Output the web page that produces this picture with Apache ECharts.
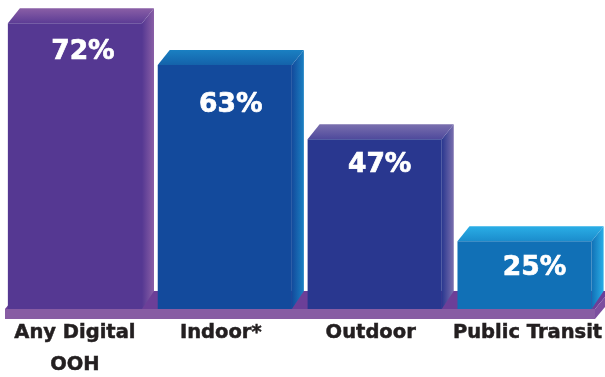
<!DOCTYPE html>
<html>
<head>
<meta charset="utf-8">
<style>html,body{margin:0;padding:0;background:#fff}#chart{width:605px;height:377px}</style>
<script src="https://cdn.jsdelivr.net/npm/echarts@6/dist/echarts.min.js"></script>
</head>
<body>
<div id="chart"></div>
<script>
// Reach of digital out-of-home formats
const categories = ['Any Digital\nOOH', 'Indoor*', 'Outdoor', 'Public Transit'];
const values = [72, 63, 47, 25];

// Face colours per bar: front, top (back edge, front edge), side (outer edge)
const fronts = ['#553892', '#134a9c', '#29378f', '#1170b6'];
const topBacks = ['#8a5fa6', '#1a80c2', '#7a6fae', '#2aaee6'];
const topFronts = ['#5c3c95', '#1462aa', '#4f4a9c', '#1b8ccc'];
const sideOuters = ['#8a5fa6', '#1a80c2', '#7a6fae', '#2aaee6'];

// Nudges of the value labels inside each bar
const labelDx = [8, 6, 5, 10];
const labelDy = [29, 40, 26, 27];
// Nudges of the category labels under each bar (right padding, left padding)
const catPad = [[0, 0], [8, 0], [8, 0], [0, 6]];

const DX = 12, DY = 15;       // bar extrusion
const FLOOR_DX = 15, FLOOR_DY = 18, FLOOR_H = 10;

function grad(x0, y0, x1, y1, a, b) {
  return new echarts.graphic.LinearGradient(x0, y0, x1, y1, [
    { offset: 0, color: a }, { offset: 1, color: b }
  ]);
}

function renderBar(params, api) {
  const i = api.value(0);
  const base = api.coord([i, api.value(2)]);
  const top = api.coord([i, api.value(1)]);
  const w = api.size([1, 0])[0] * 0.895;
  const l = base[0] - w / 2, r = base[0] + w / 2, t = top[1], b = base[1];
  return {
    type: 'group',
    children: [
      { type: 'polygon', shape: { points: [[r, t], [r + DX, t - DY], [r + DX, b - FLOOR_DY], [r, b]] },
        style: { fill: grad(0, 0, 1, 0, fronts[i], sideOuters[i]) } },
      { type: 'polygon', shape: { points: [[l, t], [l + DX, t - DY], [r + DX, t - DY], [r, t]] },
        style: { fill: grad(0, 0, 0, 1, topBacks[i], topFronts[i]) } },
      { type: 'rect', shape: { x: l, y: t, width: w, height: b - t }, style: { fill: fronts[i] } },
      { type: 'text', x: base[0] + labelDx[i], y: t + labelDy[i],
        style: { text: api.value(1) + '%', fill: '#ffffff', stroke: '#ffffff', lineWidth: 0.7,
          align: 'center', verticalAlign: 'middle', font: 'bold 26.5px "DejaVu Sans"' } }
    ]
  };
}

function renderFloor(params, api) {
  const b = api.coord([0, api.value(1)])[1];
  const l = 5, r = 595;
  return {
    type: 'group',
    children: [
      { type: 'polygon', shape: { points: [[l, b], [l + FLOOR_DX, b - FLOOR_DY], [r + FLOOR_DX, b - FLOOR_DY], [r, b]] },
        style: { fill: '#6c3f98' } },
      { type: 'polygon', shape: { points: [[r, b], [r + FLOOR_DX, b - FLOOR_DY], [r + FLOOR_DX, b - FLOOR_DY + FLOOR_H], [r, b + FLOOR_H]] },
        style: { fill: '#7c4f9f' } },
      { type: 'rect', shape: { x: l, y: b, width: r - l, height: FLOOR_H }, style: { fill: '#875ca3' } }
    ]
  };
}

const axisMin = 10.4, axisMax = 77;
const rich = {};
catPad.forEach((p, i) => {
  rich['c' + i] = { fontFamily: 'DejaVu Sans', fontWeight: 'bold', fontSize: 19.5, color: '#231f20',
    textBorderColor: '#231f20', textBorderWidth: 0.5, lineHeight: 32, padding: [0, p[0], 0, p[1]] };
});

const chart = echarts.init(document.getElementById('chart'), null, { renderer: 'canvas' });
chart.setOption({
  animation: false,
  backgroundColor: '#ffffff',
  grid: { left: -2, width: 603, top: 0, height: 309, containLabel: false },
  xAxis: {
    type: 'category',
    data: categories,
    axisLine: { show: false },
    axisTick: { show: false },
    axisLabel: {
      interval: 0,
      margin: 8,
      hideOverlap: false,
      formatter: (v, i) => v.split('\n').map(s => '{c' + i + '|' + s + '}').join('\n'),
      rich
    }
  },
  yAxis: { type: 'value', min: axisMin, max: axisMax, show: false, splitLine: { show: false } },
  series: [
    { type: 'custom', z: 1, renderItem: renderFloor, data: [[0, axisMin]], clip: false, silent: true },
    { type: 'custom', z: 2, renderItem: renderBar, clip: false, silent: true,
      encode: { x: 0, y: 1 },
      data: values.map((v, i) => [i, v, axisMin]) }
  ]
});
</script>
</body>
</html>
